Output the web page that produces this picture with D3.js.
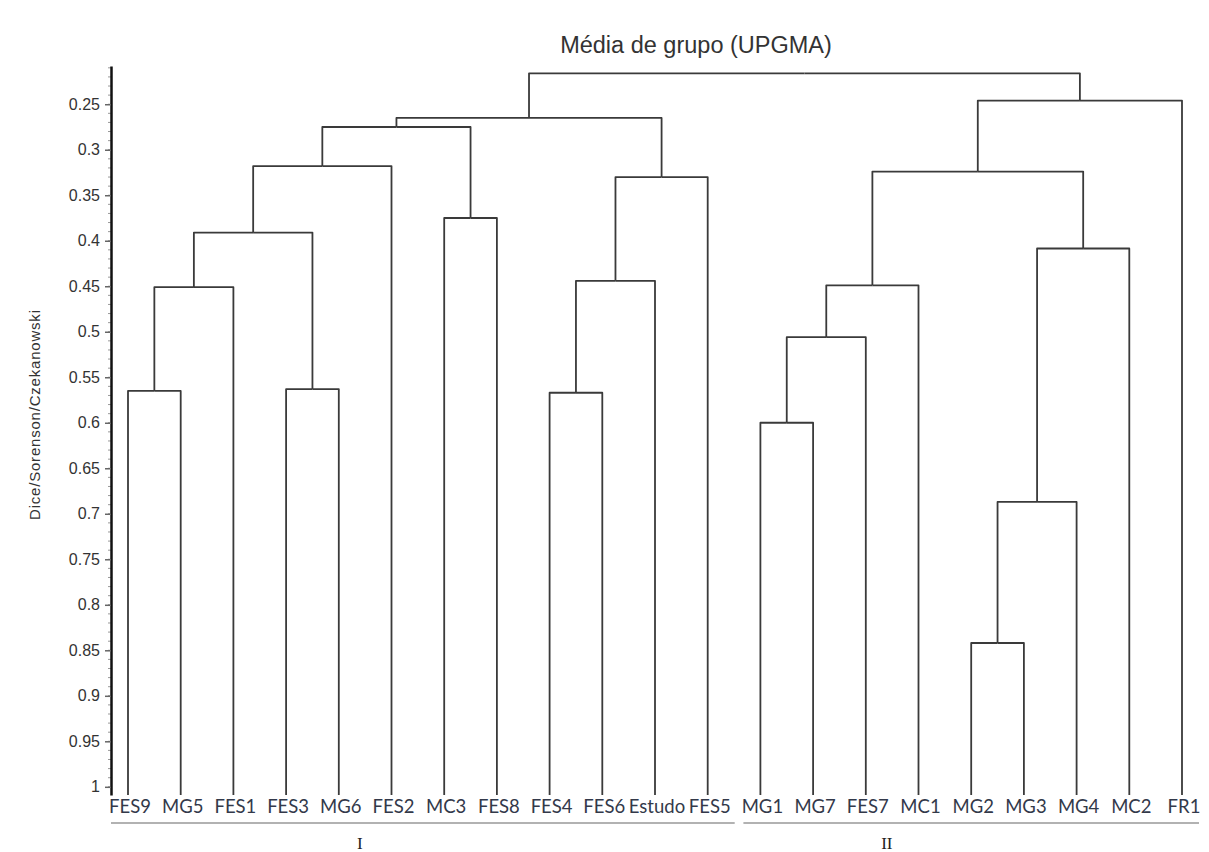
<!DOCTYPE html>
<html>
<head>
  <meta charset="utf-8">
  <title>Média de grupo (UPGMA)</title>
  <script src="https://d3js.org/d3.v7.min.js"></script>
  <style>
    body { margin: 0; background: #fff; }
  </style>
</head>
<body>
  <div id="chart"></div>

  <script>
    // leaf order, left to right
    const leaves = ["FES9", "MG5", "FES1", "FES3", "MG6", "FES2", "MC3", "FES8", "FES4", "FES6",
                    "Estudo", "FES5", "MG1", "MG7", "FES7", "MC1", "MG2", "MG3", "MG4", "MC2", "FR1"];

    // merges: [left, right, height]; row i creates cluster "n" + i
    const merges = [
      ["FES9", "MG5", 0.565],   // n0
      ["n0", "FES1", 0.451],    // n1
      ["FES3", "MG6", 0.563],   // n2
      ["n1", "n2", 0.391],      // n3
      ["n3", "FES2", 0.318],    // n4
      ["MC3", "FES8", 0.375],   // n5
      ["n4", "n5", 0.275],      // n6
      ["FES4", "FES6", 0.567],  // n7
      ["n7", "Estudo", 0.444],  // n8
      ["n8", "FES5", 0.330],    // n9
      ["n6", "n9", 0.265],      // n10
      ["MG1", "MG7", 0.600],    // n11
      ["n11", "FES7", 0.506],   // n12
      ["n12", "MC1", 0.449],    // n13
      ["MG2", "MG3", 0.842],    // n14
      ["n14", "MG4", 0.687],    // n15
      ["n15", "MC2", 0.4085],   // n16
      ["n13", "n16", 0.324],    // n17
      ["n17", "FR1", 0.246],    // n18
      ["n10", "n18", 0.216]     // n19
    ];

    const yTicks = [0.25, 0.3, 0.35, 0.4, 0.45, 0.5, 0.55, 0.6, 0.65, 0.7, 0.75, 0.8, 0.85, 0.9, 0.95, 1];

    const groupNames = ["I", "II"];
    const groupFirst = ["FES9", "MG1"];
    const groupLast = ["FES5", "FR1"];
    const groupLabelLeaf = ["MG6", "FES7"];

    const width = 1209, height = 852;
    const yMin = 0.208, yMax = 1.009;

    const svg = d3.select("#chart").append("svg")
      .attr("width", width)
      .attr("height", height);

    const x = d3.scalePoint().domain(leaves).range([128, 1182]);
    const y = d3.scaleLinear().domain([yMin, yMax]).range([66, 795]);

    // build tree nodes
    const nodes = {};
    leaves.forEach(name => { nodes[name] = { name: name, h: yMax, children: null }; });
    merges.forEach((m, i) => {
      nodes["n" + i] = { name: "n" + i, h: m[2], children: [nodes[m[0]], nodes[m[1]]] };
    });
    const root = d3.hierarchy(nodes["n" + (merges.length - 1)]);

    root.eachAfter(d => {
      if (!d.children) d.px = x(d.data.name);
      else d.px = d3.mean(d.children, c => c.px);
      d.py = y(d.data.h);
    });

    // title
    svg.append("text")
      .attr("x", 696)
      .attr("y", 53)
      .attr("text-anchor", "middle")
      .attr("font-family", "Liberation Sans, Arial, sans-serif")
      .attr("font-size", 23.5)
      .attr("fill", "#333")
      .text("Média de grupo (UPGMA)");

    // y axis
    const axisG = svg.append("g").attr("transform", "translate(111,0)");

    axisG.selectAll("line.minor")
      .data(d3.range(0.21, 1.005, 0.01))
      .join("line")
      .attr("class", "minor")
      .attr("x1", -3).attr("x2", 0)
      .attr("y1", d => y(d)).attr("y2", d => y(d))
      .attr("stroke", "#999")
      .attr("stroke-width", 1);

    axisG.call(d3.axisLeft(y)
        .tickValues(yTicks)
        .tickSize(6)
        .tickSizeOuter(0)
        .tickPadding(5)
        .tickFormat(d => String(+d.toFixed(2))))
      .call(g => g.select(".domain").attr("stroke", "#111").attr("stroke-width", 2.5))
      .call(g => g.selectAll(".tick line").attr("stroke", "#666").attr("stroke-width", 1.5))
      .call(g => g.selectAll(".tick text")
        .attr("font-family", "Liberation Sans, Arial, sans-serif")
        .attr("font-size", 16)
        .attr("fill", "#333"));

    svg.append("text")
      .attr("transform", "translate(40,415) rotate(-90)")
      .attr("text-anchor", "middle")
      .attr("font-family", "Liberation Sans, Arial, sans-serif")
      .attr("font-size", 15)
      .attr("textLength", 210)
      .attr("lengthAdjust", "spacing")
      .attr("fill", "#333")
      .text("Dice/Sorenson/Czekanowski");

    // dendrogram links
    svg.append("g")
      .attr("fill", "none")
      .attr("stroke", "#3a3a3a")
      .attr("stroke-width", 1.8)
      .attr("stroke-linejoin", "round")
      .selectAll("path")
      .data(root.links())
      .join("path")
      .attr("d", l => `M${l.target.px},${l.target.py}V${l.source.py}H${l.source.px}`);

    // leaf labels
    svg.append("g")
      .selectAll("text")
      .data(leaves)
      .join("text")
      .attr("x", d => x(d) + 2)
      .attr("y", 813)
      .attr("text-anchor", "middle")
      .attr("font-family", "Lato, sans-serif")
      .attr("font-size", 18.5)
      .attr("fill", "#33394a")
      .text(d => d);

    // group brackets
    const step = x.step();
    const groupG = svg.append("g");
    groupNames.forEach((g, i) => {
      groupG.append("line")
        .attr("x1", x(groupFirst[i]) - 17)
        .attr("x2", x(groupLast[i]) + (i === 0 ? 27 : 17))
        .attr("y1", 823).attr("y2", 823)
        .attr("stroke", "#999")
        .attr("stroke-width", 1.5);
      groupG.append("text")
        .attr("x", x(groupLabelLeaf[i]) + step * 0.4)
        .attr("y", 849)
        .attr("text-anchor", "middle")
        .attr("font-family", "Liberation Serif, Times New Roman, serif")
        .attr("font-size", 17)
        .attr("fill", "#222")
        .text(g);
    });
  </script>
</body>
</html>
